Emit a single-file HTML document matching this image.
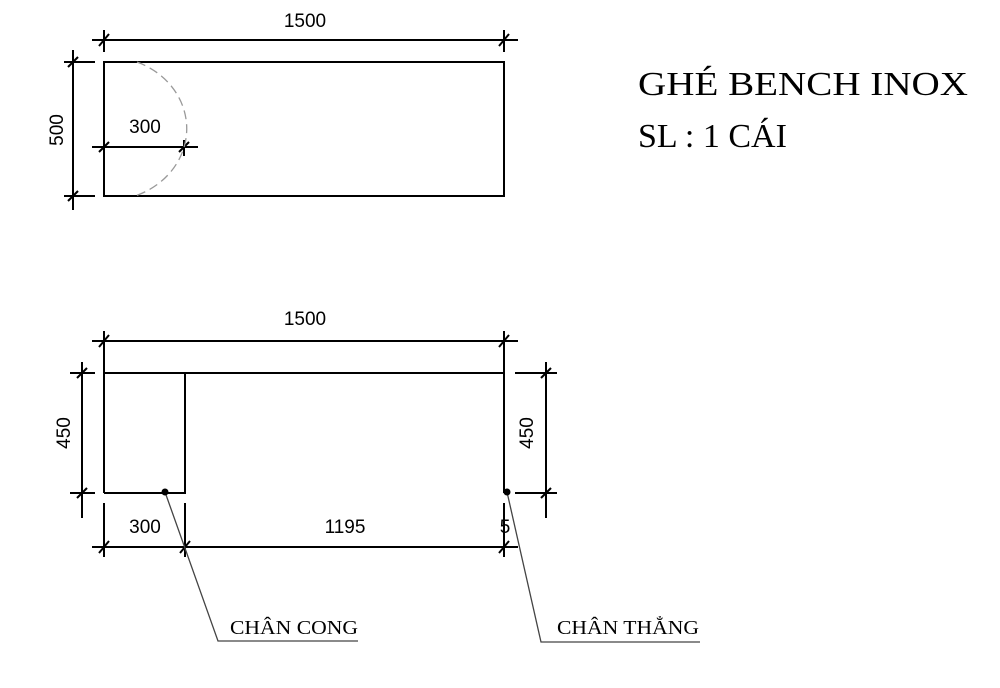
<!DOCTYPE html>
<html><head><meta charset="utf-8"><style>html,body{margin:0;padding:0;background:#fff}svg{display:block}</style></head>
<body>
<svg width="1000" height="688" viewBox="0 0 1000 688" xmlns="http://www.w3.org/2000/svg">
<g stroke="#000" stroke-width="2" fill="none">
<!-- top view -->
<rect x="104" y="62" width="400" height="134"/>
<line x1="92" y1="40" x2="518" y2="40"/>
<line x1="104" y1="30" x2="104" y2="52"/><line x1="99" y1="46" x2="109" y2="34"/>
<line x1="504" y1="30" x2="504" y2="52"/><line x1="499" y1="46" x2="509" y2="34"/>
<line x1="73" y1="50" x2="73" y2="210"/>
<line x1="64" y1="62" x2="95" y2="62"/><line x1="68" y1="67" x2="78" y2="57"/>
<line x1="64" y1="196" x2="95" y2="196"/><line x1="68" y1="201" x2="78" y2="191"/>
<line x1="92" y1="147" x2="198" y2="147"/>
<line x1="104" y1="140" x2="104" y2="156"/><line x1="99" y1="152" x2="109" y2="142"/>
<line x1="184" y1="140" x2="184" y2="156"/><line x1="179" y1="152" x2="189" y2="142"/>
<!-- front view -->
<line x1="92" y1="341" x2="518" y2="341"/>
<line x1="104" y1="331" x2="104" y2="493"/><line x1="99" y1="347" x2="109" y2="335"/>
<line x1="504" y1="331" x2="504" y2="493"/><line x1="499" y1="347" x2="509" y2="335"/>
<line x1="104" y1="373" x2="504" y2="373"/>
<polyline points="104,493 185,493 185,373"/>
<line x1="82" y1="362" x2="82" y2="518"/>
<line x1="70" y1="373" x2="95" y2="373"/><line x1="77" y1="378" x2="87" y2="368"/>
<line x1="70" y1="493" x2="95" y2="493"/><line x1="77" y1="498" x2="87" y2="488"/>
<line x1="546" y1="362" x2="546" y2="518"/>
<line x1="515" y1="373" x2="557" y2="373"/><line x1="541" y1="378" x2="551" y2="368"/>
<line x1="515" y1="493" x2="557" y2="493"/><line x1="541" y1="498" x2="551" y2="488"/>
<line x1="92" y1="547" x2="518" y2="547"/>
<line x1="104" y1="503" x2="104" y2="557"/><line x1="99" y1="553" x2="109" y2="541"/>
<line x1="185" y1="503" x2="185" y2="557"/><line x1="180" y1="553" x2="190" y2="541"/>
<line x1="504" y1="503" x2="504" y2="557"/><line x1="499" y1="553" x2="509" y2="541"/>
</g>
<path d="M137 62 A80 72 0 0 1 135 196" stroke="#999" stroke-width="1.3" stroke-dasharray="9,5" fill="none"/>
<g stroke="#444" stroke-width="1.3" fill="none">
<polyline points="165,492 218,641 358,641"/>
<polyline points="507,492 541,642 700,642"/>
</g>
<circle cx="165" cy="492" r="3.5" fill="#000"/>
<circle cx="507" cy="492" r="3.5" fill="#000"/>
<g font-family="'Liberation Sans', sans-serif" font-size="19" fill="#000" text-anchor="middle">
<text x="305" y="27">1500</text>
<text x="145" y="133">300</text>
<text x="305" y="325">1500</text>
<text x="145" y="533">300</text>
<text x="345" y="533">1195</text>
<text x="505" y="533">5</text>
<text transform="translate(63,130) rotate(-90)">500</text>
<text transform="translate(70,433) rotate(-90)">450</text>
<text transform="translate(533,433) rotate(-90)">450</text>
</g>
<g font-family="'Liberation Serif', serif" fill="#000">
<text x="638" y="95" font-size="34" textLength="330" lengthAdjust="spacingAndGlyphs">GHÉ BENCH INOX</text>
<text x="638" y="147" font-size="34">SL : 1 CÁI</text>
<text x="230" y="634" font-size="20" textLength="128" lengthAdjust="spacingAndGlyphs">CHÂN CONG</text>
<text x="557" y="634" font-size="20" textLength="142" lengthAdjust="spacingAndGlyphs">CHÂN THẲNG</text>
</g>
</svg>
</body></html>
